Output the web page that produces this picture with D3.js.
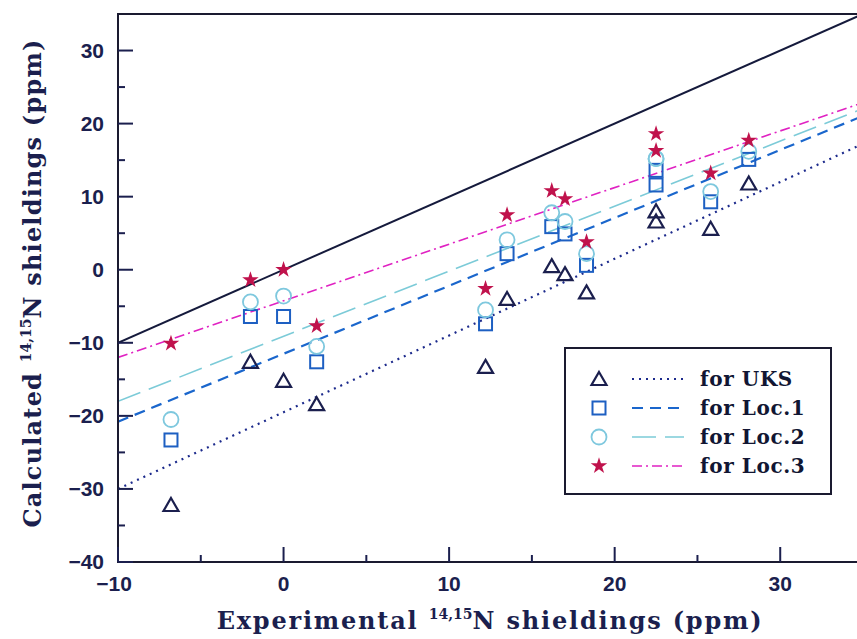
<!DOCTYPE html>
<html>
<head>
<meta charset="utf-8">
<script src="https://cdn.jsdelivr.net/npm/d3@7"></script>
<style>
  body { margin: 0; background: #fff; }
  svg { display: block; }
</style>
</head>
<body>
<script>
// experimental shieldings (x) and calculated ones for each method
const expX   = [-6.8, -2.0, 0.0, 2.0, 12.2, 13.5, 16.2, 17.0, 18.3, 22.5, 22.5, 25.8, 28.1];
const uks    = [-32.2, -12.6, -15.2, -18.4, -13.3, -4.0, 0.5, -0.6, -3.1, 8.0, 6.6, 5.6, 11.8];
const loc1   = [-23.3, -6.4, -6.4, -12.6, -7.4, 2.2, 5.9, 4.9, 0.6, 13.6, 11.6, 9.3, 15.1];
const loc2   = [-20.5, -4.4, -3.6, -10.5, -5.5, 4.1, 7.8, 6.6, 2.2, 15.2, 15.2, 10.7, 16.2];
const loc3   = [-10.1, -1.4, 0.0, -7.7, -2.6, 7.5, 10.8, 9.7, 3.8, 18.6, 16.3, 13.2, 17.7];

// fitted lines: [slope, intercept]
const fitUKS  = [1.05, -19.5];
const fitLoc1 = [0.93, -11.5];
const fitLoc2 = [0.89, -9.1];
const fitLoc3 = [0.775, -4.25];

const xTicks = [-10, 0, 10, 20, 30];
const yTicks = [-40, -30, -20, -10, 0, 10, 20, 30];
const legendLabels = ["for UKS", "for Loc.1", "for Loc.2", "for Loc.3"];

const width = 857, height = 639;
const navy = "#1b1f4e";

const x = d3.scaleLinear().domain([-10, 35]).range([118, 863]);
const y = d3.scaleLinear().domain([-40, 35]).range([562, 14]);

const svg = d3.select("body").append("svg")
  .attr("width", width).attr("height", height);

svg.append("defs").append("clipPath").attr("id", "plot")
  .append("rect").attr("x", x(-10)).attr("y", y(35))
  .attr("width", x(35) - x(-10)).attr("height", y(-40) - y(35));

const series = [
  {name: "UKS", vals: uks, fit: fitUKS, mark: "tri", mcol: navy, lcol: "#1c2a8c", dash: "2,5", lw: 2.2},
  {name: "Loc.1", vals: loc1, fit: fitLoc1, mark: "sq", mcol: "#1d5fc2", lcol: "#1a66cc", dash: "11,7", lw: 2.2},
  {name: "Loc.2", vals: loc2, fit: fitLoc2, mark: "circ", mcol: "#7ec8de", lcol: "#7ccbd8", dash: "24,9", lw: 1.6},
  {name: "Loc.3", vals: loc3, fit: fitLoc3, mark: "star", mcol: "#c0124c", lcol: "#e022c2", dash: "10,4,2,4", lw: 1.6}
];

function drawMark(g, type, color, cx, cy) {
  if (type === "tri") {
    g.append("path").attr("d", `M${cx},${cy - 7}L${cx + 7.5},${cy + 6}L${cx - 7.5},${cy + 6}Z`)
      .attr("fill", "none").attr("stroke", color).attr("stroke-width", 2.2);
  } else if (type === "sq") {
    g.append("rect").attr("x", cx - 6.5).attr("y", cy - 6.5).attr("width", 13).attr("height", 13)
      .attr("fill", "none").attr("stroke", color).attr("stroke-width", 2);
  } else if (type === "circ") {
    g.append("circle").attr("cx", cx).attr("cy", cy).attr("r", 7.5)
      .attr("fill", "none").attr("stroke", color).attr("stroke-width", 1.8);
  } else {
    g.append("path").attr("d", d3.symbol(d3.symbolStar, 85)())
      .attr("transform", `translate(${cx},${cy})`).attr("fill", color);
  }
}

// lines
const lines = svg.append("g").attr("clip-path", "url(#plot)");
lines.append("line")
  .attr("x1", x(-10)).attr("y1", y(-10)).attr("x2", x(35)).attr("y2", y(35))
  .attr("stroke", "#151a3c").attr("stroke-width", 2);
series.forEach(s => {
  const f = v => s.fit[0] * v + s.fit[1];
  lines.append("line")
    .attr("x1", x(-10)).attr("y1", y(f(-10))).attr("x2", x(35)).attr("y2", y(f(35)))
    .attr("stroke", s.lcol).attr("stroke-width", s.lw).attr("stroke-dasharray", s.dash);
});

// markers
const marks = svg.append("g");
series.forEach(s => {
  s.vals.forEach((v, i) => drawMark(marks, s.mark, s.mcol, x(expX[i]), y(v)));
});

// frame and ticks
const axisColor = "#1a1a30";
svg.append("path")
  .attr("d", `M${width},${y(35)}H${x(-10)}V${y(-40)}H${width}`)
  .attr("fill", "none").attr("stroke", axisColor).attr("stroke-width", 2);

const tickG = svg.append("g").attr("stroke", navy).attr("stroke-width", 2);
d3.range(-10, 35, 5).forEach(v => {
  const len = v % 10 === 0 ? 15 : 7;
  tickG.append("line").attr("x1", x(v)).attr("x2", x(v))
    .attr("y1", y(-40)).attr("y2", y(-40) - len);
});
d3.range(-40, 35, 5).forEach(v => {
  const len = v % 10 === 0 ? 15 : 7;
  tickG.append("line").attr("x1", x(-10)).attr("x2", x(-10) + len)
    .attr("y1", y(v)).attr("y2", y(v));
});

const tickFont = "'Liberation Sans', Arial, sans-serif";
svg.append("g").selectAll("text").data(xTicks).join("text")
  .attr("x", d => x(d) + (d < 0 ? -4 : 0)).attr("y", 591)
  .attr("text-anchor", "middle")
  .attr("font-family", tickFont).attr("font-weight", "bold").attr("font-size", 21)
  .attr("fill", navy)
  .text(d => d < 0 ? "\u2212" + Math.abs(d) : d);
svg.append("g").selectAll("text").data(yTicks).join("text")
  .attr("x", 104).attr("y", d => y(d) + 7)
  .attr("text-anchor", "end")
  .attr("font-family", tickFont).attr("font-weight", "bold").attr("font-size", 21)
  .attr("fill", navy)
  .text(d => d < 0 ? "\u2212" + Math.abs(d) : d);

// axis titles
const titleFont = "'DejaVu Serif', serif";
const xt = svg.append("text")
  .attr("x", 490).attr("y", 629).attr("text-anchor", "middle")
  .attr("font-family", titleFont).attr("font-weight", "bold").attr("font-size", 24)
  .attr("letter-spacing", 1.8).attr("fill", navy);
xt.append("tspan").text("Experimental ");
xt.append("tspan").attr("font-size", 14).attr("dy", -10).attr("letter-spacing", 0).text("14,15");
xt.append("tspan").attr("dy", 10).text("N shieldings (ppm)");

const yt = svg.append("text")
  .attr("transform", `translate(41,283) rotate(-90)`).attr("text-anchor", "middle")
  .attr("font-family", titleFont).attr("font-weight", "bold").attr("font-size", 24)
  .attr("letter-spacing", 1.2).attr("fill", navy);
yt.append("tspan").text("Calculated ");
yt.append("tspan").attr("font-size", 14).attr("dy", -10).attr("letter-spacing", 0).text("14,15");
yt.append("tspan").attr("dy", 10).text("N shieldings (ppm)");

// legend
const lg = svg.append("g");
lg.append("rect").attr("x", 565).attr("y", 348).attr("width", 266).attr("height", 146)
  .attr("fill", "#fff").attr("stroke", axisColor).attr("stroke-width", 2);
series.forEach((s, i) => {
  const ry = 379 + i * 29;
  drawMark(lg, s.mark, s.mcol, 599, ry);
  lg.append("line").attr("x1", 632).attr("x2", 684).attr("y1", ry).attr("y2", ry)
    .attr("stroke", s.lcol).attr("stroke-width", s.lw).attr("stroke-dasharray", s.dash);
  lg.append("text").attr("x", 700).attr("y", ry + 7)
    .attr("font-family", titleFont).attr("font-weight", "bold").attr("font-size", 20)
    .attr("letter-spacing", 0.6).attr("fill", "#111633").text(legendLabels[i]);
});
</script>
</body>
</html>
